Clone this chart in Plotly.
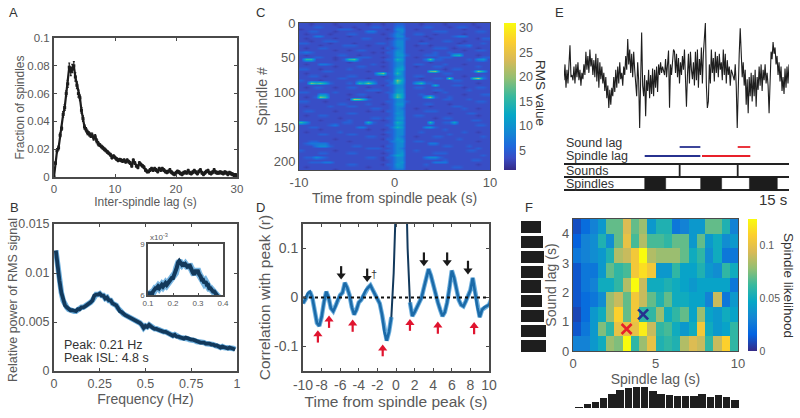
import plotly.graph_objects as go

W, H = 800, 418

# ---------- Panel A ----------
A_lag_step = 0.25
A_fraction = [0,.010,.019,.021,.030,.035,.045,.050,.060,.067,.079,.076,.078,.080,.072,.066,.060,.057,.048,.042,
 .036,.034,.032,.031,.030,.030,.028,.029,.026,.024,.023,.022,.021,.020,.019,.018,.017,.016,.014,.015,
 .014,.013,.012,.0125,.012,.0115,.012,.011,.012,.011,.010,.008,.012,.010,.008,.007,.010,.009,.008,.007,
 .005,.004,.004,.005,.006,.005,.006,.005,.004,.006,.005,.006,.005,.004,.0035,.004,.005,.0035,.0025,.002,
 .003,.004,.0035,.0025,.002,.003,.0035,.003,.0045,.003,.0025,.0035,.0045,.0035,.0025,.004,.005,.003,.002,.003,
 .004,.0045,.003,.0025,.0035,.005,.0035,.003,.003,.0035,.003,.0025,.0035,.003,.002,.003,.0025,.002,.0015,.0015,.001]
A_err = [0,.001,.0015,.0015,.0015,.0015,.002,.002,.002,.0025,.003,.003,.003,.003,.003,.0025,.0025,.002,.002,.002,
 .0015,.0015,.0015,.0015,.0015,.0015,.0015,.0015,.0015,.0015] + [.001]*91
A_xticks = [0, 10, 20, 30]
A_yticks = [0, .02, .04, .06, .08, .1]
A_ylabels = ["0", "0.02", "0.04", "0.06", "0.08", "0.1"]

# ---------- Panel B ----------
B_step = 0.01
B_power = [.0123,.0105,.0092,.0080,.0072,.0067,.0065,.0063,.0062,.0062,.0061,.0061,.0063,.0063,.0065,.0065,.0066,.0067,.0069,.0070,
 .0072,.0077,.0078,.0078,.0079,.0077,.0077,.0074,.0075,.0072,.0072,.0069,.0068,.0067,.0064,.0061,.0060,.0058,.0057,.0056,
 .0055,.0055,.0054,.0053,.0052,.0051,.0049,.0047,.0044,.0046,.0045,.0047,.0045,.0044,.0043,.0043,.0042,.0041,.0041,.0040,
 .0040,.0039,.0039,.0038,.0036,.0037,.0035,.0035,.0034,.0034,.0033,.0034,.0033,.0032,.0032,.0032,.0031,.0030,.0030,.0029,
 .0029,.0029,.0028,.0028,.0028,.0027,.0027,.0026,.0026,.0025,.0024,.0025,.0024,.0024,.0023,.0024,.0023,.0023,.0022]
B_xticks = [0, .25, .5, .75, 1]
B_xlabels = ["0", "0.25", "0.5", "0.75", "1"]
B_yticks = [0, .005, .01, .015]
B_ylabels = ["0", "0.005", "0.01", "0.015"]

inset_freq_step = 0.005
inset_power = [6.0,6.1,6.1,6.0,6.2,6.3,6.4,6.4,6.5,6.4,6.5,6.6,6.5,6.6,6.7,6.6,6.7,6.8,6.9,7.0,7.0,7.2,7.3,7.6,7.9,8.0,7.9,7.8,7.9,7.7,
 7.8,7.7,7.6,7.8,7.6,7.5,7.3,7.2,7.4,7.4,7.4,7.2,7.1,6.9,6.9,6.7,6.8,6.6,6.6,6.4,6.4,6.3,6.2,6.2,6.1,6.0,5.9,5.8]
inset_xticks = [.1, .2, .3, .4]
inset_xlabels = ["0.1", "0.2", "0.3", "0.4"]
inset_yticks = [6, 9]

# ---------- Panel C (coarse reading: one hex digit per cell, cell = 0.5 s x about 3.4 spindles) ----------
C_rows = [
 "2212222122 2222122122 3322212222 1222221222",
 "2223322212 2122233222 4422223322 2123322122",
 "1222222233 3212222212 5522122222 2222122222",
 "2233222122 2222442222 4522222233 3222222332",
 "2122221222 3322222123 5422332212 2222122222",
 "2224422222 1222222223 5522221222 2234422222",
 "2122222122 2223322212 4432222122 2222222133",
 "2212233322 2222222223 5522212222 3322122222",
 "3322221222 2122223323 5522233222 2221222232",
 "2222122223 3322122223 5522122122 2223342222",
 "2122332222 2222222132 4522222233 3212222122",
 "2222222122 1233222223 5522212222 2222122332",
 "3432222222 2222212133 6522222232 2322222222",
 "2122222233 2212222223 6632223332 2278222122",
 "2223322122 2233322123 5522122223 3322222233",
 "2992222123 9a32222233 8622224a33 2222232562",
 "2222222222 1222222123 5522222122 2222222222",
 "2122443222 2222232223 5522332222 3222122222",
 "2222222122 2233222123 5622122233 2222222322",
 "3322122222 3222222223 7722222222 1233222222",
 "2222233222 2222122223 7522222ab3 2222223b72",
 "2122222222 2222228b33 9522222222 3322222222",
 "2233212222 3322222123 5522332222 2222122232",
 "2222222233 2222122223 6622212233 2b22229c42",
 "3222122222 2233332233 b722222222 2233222222",
 "22b9a73222 3297b62224 9622693322 2222222122",
 "2222222222 2222222133 5522222282 2233222222",
 "2123322122 3322122223 5522332222 2222122332",
 "2222222222 2222333223 6622222233 2222232222",
 "3322222322 2222221233 6622222212 3222222222",
 "2222552222 1233222224 9722232222 2222122233",
 "2123b92222 2222122224 a722227b32 2322222222",
 "2222222222 1cb8322223 5522222222 3322232222",
 "3322212222 2222222233 5532222222 2222222332",
 "2222222233 2222322123 6622223322 2122222222",
 "2122223222 3322222223 5522222122 2233222222",
 "2222222222 2222233223 5422122222 2222322122",
 "2332222122 2222122133 5522223332 2222222222",
 "2222222222 3322222223 6522222222 2122233222",
 "2122332222 2222222223 5522332222 2222222122",
 "2222222212 2222233233 6622222212 3322222222",
 "2222122222 3222222123 5522222222 2222223322",
 "9522222223 3222832223 8622222922 3372222222",
 "2222223422 2222222233 6522222222 2222222332",
 "2233222222 2244222224 8622225632 2222222222",
 "2222122222 2222122123 5522222222 3222222222",
 "2122222232 2222222233 5522232222 2222322122",
 "2222332222 3322222123 5522222222 2322222222",
 "2222222222 2222332223 5422122233 2222222232",
 "2222222122 2222222133 6522222222 2223222222",
 "2233222222 1222222224 5622332222 2222222122",
 "2344442222 2222222223 5522222442 2222222222",
 "2224553222 2332222133 5522222222 3322232222",
 "2222222222 2222333223 5422222222 2222222322",
 "3222222122 2222222233 5522322222 2222233222",
 "2222332222 3322222123 5622222233 3222222222",
 "2222222222 2222222224 7622222222 2222222232",
 "2335432222 2222332133 5522224553 2222222222",
 "2222222222 2222222123 5522222222 3222223322",
 "2233344222 2222222223 5622222244 4222222222",
 "2222222222 3322222133 6522223222 2222222122",
 "2122222222 2222122223 5522222222 2233222222",
 "2222222122 2222222223 4422221222 2222222222",
]
C_time_step = 0.5
C_row_step = 212 / 63
C_yticks = [0, 50, 100, 150, 200]
C_xticks = [-10, 0, 10]
C_cbar_ticks = [5, 10, 15, 20, 25, 30]
# RMS value for each hex digit used in C_rows
C_digit_value = [1.0, 2.6, 3.6, 5.2, 7.2, 9.0, 10.5, 12.0, 13.5, 15.0, 17.0, 19.0, 21.0]

# ---------- Panel D ----------
D_step = 0.25
D_corr = [-.012,-.004,.008,.012,0,-.025,-.052,-.058,-.04,-.01,.012,0,-.022,-.028,-.018,-.004,.005,.01,.03,.02,.005,-.02,-.035,-.025,-.01,
 -.005,.005,.015,.02,.025,.015,.005,-.002,-.012,-.035,-.07,-.088,-.07,-.04,.05,.2,.6,1,.6,.3,.1,-.01,-.038,-.03,-.02,-.01,0,.02,.04,.058,
 .045,.025,.005,-.01,-.025,-.038,-.03,-.01,.02,.055,.04,.015,-.005,-.015,-.018,-.008,.005,.015,.04,.01,-.02,-.04,-.025,-.02,-.018,-.015,-.005,.008]
D_xticks = [-10,-8,-6,-4,-2,0,2,4,6,8,10]
D_yticks = [-.1, 0, .1]
D_ylabels = ["-0.1", "0", "0.1"]
D_black_t = [-5.9, -3.1, 3.0, 5.5, 7.74]
D_black_tip = [.037, .032, .064, .064, .047]
D_black_tail = [.064, .059, .092, .092, .075]
D_red_t = [-8.4, -7.2, -4.66, -1.43, 1.5, 4.5, 8.4]
D_red_tip = [-.067, -.037, -.045, -.096, -.044, -.049, -.05]
D_red_tail = [-.092, -.062, -.07, -.12, -.068, -.074, -.075]

# ---------- Panel E ----------
E_duration = 15
E_trace = [45,60,38,55,42,62,78,48,50,45,58,42,60,48,62,45,55,40,52,46,
 60,50,72,55,68,52,74,58,66,50,64,48,70,44,66,38,62,46,58,42,
 52,35,48,28,40,19,36,22,38,30,48,34,55,38,58,42,62,46,52,40,
 58,50,68,55,84,60,74,52,70,48,72,55,40,30,62,45,0,45,90,40,
 30,50,11,45,35,55,28,50,32,56,30,55,38,58,34,60,50,62,52,58,
 55,50,65,48,60,73,19,60,50,68,74,72,52,70,48,66,42,62,50,68,
 55,74,45,20,50,70,42,72,55,46,62,40,72,45,74,38,65,50,76,42,
 70,85,99,40,19,25,60,42,74,52,66,44,72,52,68,48,70,55,62,45,
 74,50,70,42,64,50,58,40,55,52,48,45,60,40,0,50,70,94,60,48,
 62,40,55,22,46,14,48,30,52,25,50,30,55,20,48,36,58,40,60,35,
 55,45,60,42,52,40,14,60,72,65,81,70,76,60,68,50,62,44,58,35,
 48,32,56,38,58,42,60]
E_spindle_start = [5.38, 9.11, 12.36]
E_spindle_end = [6.78, 10.51, 14.22]
E_sound_times = [7.71, 11.58]
E_sound_lag_blue = [7.71, 9.09]
E_sound_lag_red = [11.58, 12.42]
E_spindle_lag_blue = [5.38, 9.09]
E_spindle_lag_red = [9.2, 12.42]

# ---------- Panel F ----------
F_lag_step = 0.5
F_likelihood = [  # bottom row first
 [.03,.03,.04,.05,.08,.075,.125,.06,.08,.10,.055,.06,.055,.085,.095,.09,.06,.09,.11,.06],
 [.012,.025,.04,.075,.06,.10,.10,.10,.12,.09,.06,.065,.05,.04,.05,.105,.05,.04,.045,.06],
 [.008,.02,.04,.05,.08,.11,.07,.105,.06,.06,.08,.05,.06,.07,.045,.08,.045,.04,.05,.045],
 [.012,.02,.025,.035,.08,.09,.07,.105,.09,.07,.055,.07,.05,.05,.045,.045,.03,.09,.025,.04],
 [.012,.025,.03,.05,.05,.06,.085,.125,.09,.05,.05,.055,.05,.045,.04,.045,.045,.045,.045,.025],
 [.012,.025,.025,.04,.07,.06,.065,.105,.115,.105,.04,.04,.06,.045,.045,.055,.04,.035,.06,.05],
 [.025,.03,.035,.04,.055,.085,.09,.105,.125,.085,.08,.08,.08,.07,.05,.06,.035,.05,.025,.025],
 [.015,.03,.035,.055,.035,.07,.10,.065,.085,.065,.065,.06,.07,.07,.04,.07,.04,.05,.035,.04],
 [.01,.02,.03,.04,.07,.07,.095,.07,.08,.04,.055,.055,.025,.03,.04,.04,.07,.07,.055,.03],
]
F_xticks = [0, 5, 10]
F_yticks = [0, 1, 2, 3, 4]
F_cbar_ticks = [0, .05, .1]
F_cbar_labels = ["0", "0.05", "0.1"]
F_red_cross = (3.25, .75)
F_blue_cross = (4.25, 1.25)
F_side_bars = [74, 74, 68, 63, 59, 65, 69, 66, 59]  # bottom row first
F_bottom_bars = [2, 12, 19, 30, 43, 55, 62, 64, 64, 52, 43, 40, 38, 38, 38, 42, 34, 39, 33, 24]

# ---------- Styling ----------
FONT = "Liberation Sans"
TICK = "#595959"
FRAME = "#4a4a4a"
INK = "#333333"
PARULA = [[0,"#352a87"],[.08,"#3a4cc4"],[.16,"#1f68dc"],[.25,"#1485d4"],[.375,"#06a7c6"],[.5,"#38b99e"],
          [.625,"#92bf73"],[.75,"#d9ba56"],[.875,"#fcce2e"],[1,"#f9fb0e"]]
PARULA_F = [[0,"#352a87"],[.125,"#0363e1"],[.25,"#1485d4"],[.375,"#06a7c6"],[.5,"#38b99e"],
          [.625,"#92bf73"],[.75,"#d9ba56"],[.875,"#fcce2e"],[1,"#f9fb0e"]]

def dx(a, b): return [a / W, b / W]
def dy(top, bottom): return [1 - bottom / H, 1 - top / H]

fig = go.Figure()
layout = {}
n_axes = [0]

def axes(name_x0, name_x1, y_top, y_bot, xr, yr, xticks=None, xlabels=None, yticks=None, ylabels=None,
         xtitle=None, ytitle=None, size=13, tsize=14, xstand=2, ystand=2, lw=2, hidden=False, ticklen=3):
    n_axes[0] += 1
    i = n_axes[0]
    xn, yn = f"xaxis{i}", f"yaxis{i}"
    common = dict(showline=not hidden, linecolor=FRAME, linewidth=lw, mirror="ticks" if not hidden else False,
                  showgrid=False, zeroline=False, ticks="inside" if not hidden else "", ticklen=ticklen, tickcolor=FRAME,
                  tickwidth=1, tickfont=dict(family=FONT, size=size, color=TICK),
                  showticklabels=not hidden, automargin=False)
    layout[xn] = dict(common, domain=dx(name_x0, name_x1), range=xr, anchor=f"y{i}",
                      tickmode="array", tickvals=xticks or [], ticktext=xlabels or [str(v) for v in (xticks or [])])
    if xtitle:
        layout[xn]["title"] = dict(text=xtitle, standoff=xstand, font=dict(family=FONT, size=tsize, color=TICK))
    layout[yn] = dict(common, domain=dy(y_top, y_bot), range=yr, anchor=f"x{i}",
                      tickmode="array", tickvals=yticks or [], ticktext=ylabels or [str(v) for v in (yticks or [])])
    if ytitle:
        layout[yn]["title"] = dict(text=ytitle, standoff=ystand, font=dict(family=FONT, size=tsize, color=TICK))
    return f"x{i}", f"y{i}"

# --- A
xa, ya = axes(54, 237, 38, 177, [0, 30], [0, .1], A_xticks, None, A_yticks, A_ylabels,
              "Inter-spindle lag (s)", "Fraction of spindles", size=11.5, tsize=12, ystand=0)
A_x = [i * A_lag_step for i in range(len(A_fraction))]
fig.add_trace(go.Scatter(x=A_x, y=A_fraction, xaxis=xa, yaxis=ya, mode="lines+markers",
    line=dict(color="#1c1c1c", width=2.2), marker=dict(color="#1c1c1c", size=3, symbol="square"),
    error_y=dict(type="data", array=A_err, color="#1c1c1c", thickness=1.2, width=1), showlegend=False))

# --- B
xb, yb = axes(54, 237, 224, 371, [0, 1], [0, .015], B_xticks, B_xlabels, B_yticks, B_ylabels,
              "Frequency (Hz)", "", size=12.5, tsize=14, xstand=0)
B_x = [(i + 1) * B_step for i in range(len(B_power))]
fig.add_trace(go.Scatter(x=B_x, y=B_power, xaxis=xb, yaxis=yb, mode="lines",
    line=dict(color="#6fb0de", width=5.5), showlegend=False))
fig.add_trace(go.Scatter(x=B_x, y=B_power, xaxis=xb, yaxis=yb, mode="lines",
    line=dict(color="#12395c", width=3.8), showlegend=False))

# --- B inset
xi, yi = axes(148, 223, 244, 295, [.1, .4], [6, 9], inset_xticks, inset_xlabels, inset_yticks, None,
              size=8, lw=1.5, ticklen=2)
I_x = [.1 + i * inset_freq_step for i in range(len(inset_power))]
fig.add_trace(go.Scatter(x=I_x, y=inset_power, xaxis=xi, yaxis=yi, mode="lines",
    line=dict(color="#79b6e2", width=7), showlegend=False))
fig.add_trace(go.Scatter(x=I_x, y=inset_power, xaxis=xi, yaxis=yi, mode="lines",
    line=dict(color="#12395c", width=4), showlegend=False))

# --- C
xc, yc = axes(299, 490, 23, 170, [-10, 10], [212, 0], C_xticks, None, C_yticks, None,
              "Time from spindle peak (s)", "Spindle #", size=13, tsize=14, lw=1, ticklen=0, xstand=0)
C_z = [[C_digit_value[int(ch, 16)] for ch in row.replace(" ", "")] for row in C_rows]
C_x = [-10 + (j + .5) * C_time_step for j in range(40)]
C_y = [(i + .5) * C_row_step for i in range(len(C_rows))]
fig.add_trace(go.Heatmap(z=C_z, x=C_x, y=C_y, xaxis=xc, yaxis=yc, zmin=1, zmax=31, colorscale=PARULA, zsmooth="best",
    colorbar=dict(x=504 / W, xanchor="left", y=1 - 170 / H, yanchor="bottom", len=147 / H, lenmode="fraction",
                  thickness=12, thicknessmode="pixels", tickvals=C_cbar_ticks, ticks="", outlinewidth=0,
                  tickfont=dict(family=FONT, size=12.5, color=TICK), xpad=0, ypad=0)))

# --- D
xd, yd = axes(303, 489, 224, 371, [-10, 10], [-.15, .15], D_xticks, None, D_yticks, D_ylabels,
              "Time from spindle peak (s)", "Correlation with peak (r)", size=14, tsize=15.5, xstand=1, ystand=0)
D_x = [-10 + i * D_step for i in range(len(D_corr))]
for lo, hi in [(0, 39), (46, len(D_corr))]:
    fig.add_trace(go.Scatter(x=D_x[lo:hi], y=D_corr[lo:hi], xaxis=xd, yaxis=yd, mode="lines",
        line=dict(color="#6fb0de", width=4.5), showlegend=False))
    fig.add_trace(go.Scatter(x=D_x[lo:hi], y=D_corr[lo:hi], xaxis=xd, yaxis=yd, mode="lines",
        line=dict(color="#1b6aa8", width=2.6), showlegend=False))
fig.add_trace(go.Scatter(x=D_x[38:47], y=D_corr[38:47], xaxis=xd, yaxis=yd, mode="lines",
    line=dict(color="#12395c", width=2), showlegend=False))
fig.add_trace(go.Scatter(x=[-10, 10], y=[0, 0], xaxis=xd, yaxis=yd, mode="lines",
    line=dict(color="#111", width=1.8, dash="dot"), showlegend=False))

annotations = []
def arrows(ts, tips, tails, color, symbol):
    sx, sy = [], []
    for t, a, b in zip(ts, tips, tails):
        sx += [t, t, None]
        sy += [a, b, None]
    fig.add_trace(go.Scatter(x=sx, y=sy, xaxis=xd, yaxis=yd, mode="lines", line=dict(color=color, width=2.2),
                             showlegend=False))
    fig.add_trace(go.Scatter(x=ts, y=tips, xaxis=xd, yaxis=yd, mode="markers", showlegend=False,
                             marker=dict(symbol=symbol, size=8, color=color, line_width=0)))
arrows(D_black_t, [v + .008 for v in D_black_tip], D_black_tail, "#1a1a1a", "triangle-down")
arrows(D_red_t, [v - .008 for v in D_red_tip], D_red_tail, "#e0142f", "triangle-up")
annotations.append(dict(x=-2.4, y=.047, xref=xd, yref=yd, text="†", showarrow=False,
                        font=dict(family=FONT, size=11, color=INK)))

# --- E trace
xe, ye = axes(564, 789, 22, 128, [0, E_duration], [0, 100], hidden=True)
E_x = [i * E_duration / (len(E_trace) - 1) for i in range(len(E_trace))]
fig.add_trace(go.Scatter(x=E_x, y=E_trace, xaxis=xe, yaxis=ye, mode="lines",
    line=dict(color="#1e1e1e", width=1.1), showlegend=False))

# --- E schematic (row positions in schematic units)
xs, ys = axes(564, 789, 140, 192, [0, E_duration], [0, 5.2], hidden=True)
def seg(xv, yv, color, w):
    fig.add_trace(go.Scatter(x=xv, y=yv, xaxis=xs, yaxis=ys, mode="lines", line=dict(color=color, width=w),
                             showlegend=False))
for level in [.2, 1.5, 2.8]:
    seg([0, E_duration], [level, level], "#222", 1.8)
for s in E_sound_times:
    seg([s, s], [1.5, 2.8], "#222", 1.8)
for s0, s1 in zip(E_spindle_start, E_spindle_end):
    fig.add_trace(go.Scatter(x=[s0, s1, s1, s0, s0], y=[.2, .2, 1.5, 1.5, .2], xaxis=xs, yaxis=ys, mode="lines",
                             fill="toself", fillcolor="#1c1c1c", line=dict(color="#1c1c1c", width=.5), showlegend=False))
seg(E_sound_lag_blue, [4.5, 4.5], "#27318f", 1.8)
seg(E_sound_lag_red, [4.5, 4.5], "#e8202a", 1.8)
seg(E_spindle_lag_blue, [3.6, 3.6], "#27318f", 1.8)
seg(E_spindle_lag_red, [3.6, 3.6], "#e8202a", 1.8)

# --- F heatmap
xf, yf = axes(573, 738, 219, 351, [0, 10], [0, 4.5], F_xticks, None, F_yticks, None,
              "Spindle lag (s)", "Sound lag (s)", size=13, tsize=14, lw=1.2, ticklen=0)
F_x = [(j + .5) * F_lag_step for j in range(20)]
F_y = [(i + .5) * F_lag_step for i in range(9)]
fig.add_trace(go.Heatmap(z=F_likelihood, x=F_x, y=F_y, xaxis=xf, yaxis=yf, zmin=0, zmax=.125, colorscale=PARULA_F,
    colorbar=dict(x=748 / W, xanchor="left", y=1 - 351 / H, yanchor="bottom", len=132 / H, lenmode="fraction",
                  thickness=9, thicknessmode="pixels", tickvals=F_cbar_ticks, ticktext=F_cbar_labels, ticks="",
                  outlinewidth=0, tickfont=dict(family=FONT, size=10.5, color=TICK), xpad=0, ypad=0)))
for (cx, cy), col in [(F_red_cross, "#e8202a"), (F_blue_cross, "#27318f")]:
    fig.add_trace(go.Scatter(x=[cx], y=[cy], xaxis=xf, yaxis=yf, mode="markers", showlegend=False,
        marker=dict(symbol="x-thin", size=10, line=dict(color=col, width=2.6))))

# --- F side bars
xl, yl = axes(521, 548, 220, 353, [0, 80], [0, 9], hidden=True)
fig.add_trace(go.Bar(x=F_side_bars, y=[i + .5 for i in range(9)], orientation="h", xaxis=xl, yaxis=yl,
                     marker=dict(color="#1e1e1e", line_width=0), width=.82, showlegend=False))
xl2, yl2 = axes(575, 739, 385, 408, [0, 10], [0, 70], hidden=True)
fig.add_trace(go.Bar(x=F_x, y=F_bottom_bars, xaxis=xl2, yaxis=yl2,
                     marker=dict(color="#1e1e1e", line_width=0), width=.44, showlegend=False))

# --- Free text
def label(px, py, text, size=13, color=INK, anchor="left", angle=0):
    annotations.append(dict(x=px / W, y=1 - py / H, xref="paper", yref="paper", text=text, showarrow=False,
                            xanchor=anchor, yanchor="middle", textangle=angle,
                            font=dict(family=FONT, size=size, color=color)))
for letter, px, py in [("A", 7, 12), ("B", 8, 208), ("C", 254, 12), ("D", 254, 208), ("E", 553, 12), ("F", 523, 208)]:
    label(px, py, letter, 13)
label(13, 300, "Relative power of RMS signal", 12.5, TICK, "center", -90)
label(541, 93, "RMS value", 13.5, INK, "center", 90)
label(789, 285, "Spindle likelihood", 13.5, INK, "center", 90)
label(62, 345, "Peak: 0.21 Hz", 12.5)
label(62, 358, "Peak ISL: 4.8 s", 12.5)
label(148, 237, "x10<sup>-3</sup>", 8, TICK)
label(564, 143, "Sound lag", 12.5)
label(564, 156, "Spindle lag", 12.5)
label(564, 171, "Sounds", 12.5)
label(564, 184, "Spindles", 12.5)
label(789, 199, "15 s", 15, INK, "right")

fig.update_layout(width=W, height=H, margin=dict(l=0, r=0, t=0, b=0, autoexpand=False), autosize=False,
                  paper_bgcolor="white", plot_bgcolor="white", showlegend=False,
                  annotations=annotations, bargap=0, **layout)
fig.write_html("out.html", config={"displayModeBar": False},
               post_script="document.body.style.margin='0';document.documentElement.style.overflow='hidden';")
